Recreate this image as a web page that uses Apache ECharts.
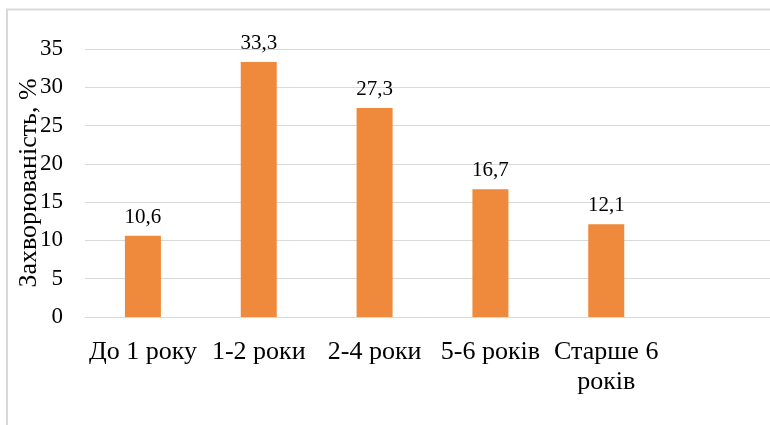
<!DOCTYPE html>
<html>
<head>
<meta charset="utf-8">
<script src="https://cdn.jsdelivr.net/npm/echarts@6/dist/echarts.min.js"></script>
<style>
  html, body { margin: 0; padding: 0; background: #fff; }
  #chart { width: 770px; height: 425px; }
</style>
</head>
<body>
<div id="chart"></div>
<script>
// Age groups (the last slot is an empty category that keeps the plot spacing)
const categories = ['До 1 року', '1-2 роки', '2-4 роки', '5-6 років', 'Старше 6\nроків', ''];
// Morbidity, %
const morbidity = [10.6, 33.3, 27.3, 16.7, 12.1, null];
// Y axis scale
const yMin = 0, yMax = 35, yStep = 5;

const FONT = '"Liberation Serif", "Times New Roman", serif';

const chart = echarts.init(document.getElementById('chart'), null, { renderer: 'canvas' });
chart.setOption({
  animation: false,
  backgroundColor: '#ffffff',
  textStyle: { fontFamily: FONT },
  graphic: [{
    type: 'rect',
    shape: { x: 7, y: 9.5, width: 800, height: 500 },
    style: { fill: 'none', stroke: '#d9d9d9', lineWidth: 2 },
    silent: true
  }],
  grid: {
    left: 85, right: -10, top: 49, bottom: 108,
    containLabel: false,
    outerBoundsMode: 'none'
  },
  xAxis: {
    type: 'category',
    data: categories,
    axisLine: { show: true, lineStyle: { color: '#d9d9d9', width: 1 } },
    axisTick: { show: false },
    axisLabel: {
      interval: 0,
      margin: 20,
      color: '#000',
      fontFamily: FONT,
      fontSize: 26,
      lineHeight: 30
    }
  },
  yAxis: {
    type: 'value',
    min: yMin,
    max: yMax,
    interval: yStep,
    name: 'Захворюваність, %',
    nameLocation: 'middle',
    nameRotate: 90,
    nameGap: 43,
    nameMoveOverlap: false,
    nameTextStyle: { color: '#000', fontFamily: FONT, fontSize: 26 },
    axisLine: { show: false },
    axisTick: { show: false },
    splitLine: { lineStyle: { color: '#d9d9d9', width: 1 } },
    axisLabel: { color: '#000', fontFamily: FONT, fontSize: 23, margin: 22 }
  },
  series: [{
    type: 'bar',
    data: morbidity,
    barWidth: 36,
    itemStyle: { color: '#EF8A3C' },
    label: {
      show: true,
      position: 'top',
      distance: 8,
      color: '#000',
      fontFamily: FONT,
      fontSize: 21,
      formatter: p => p.value == null ? '' : String(p.value).replace('.', ',')
    }
  }]
});
</script>
</body>
</html>
